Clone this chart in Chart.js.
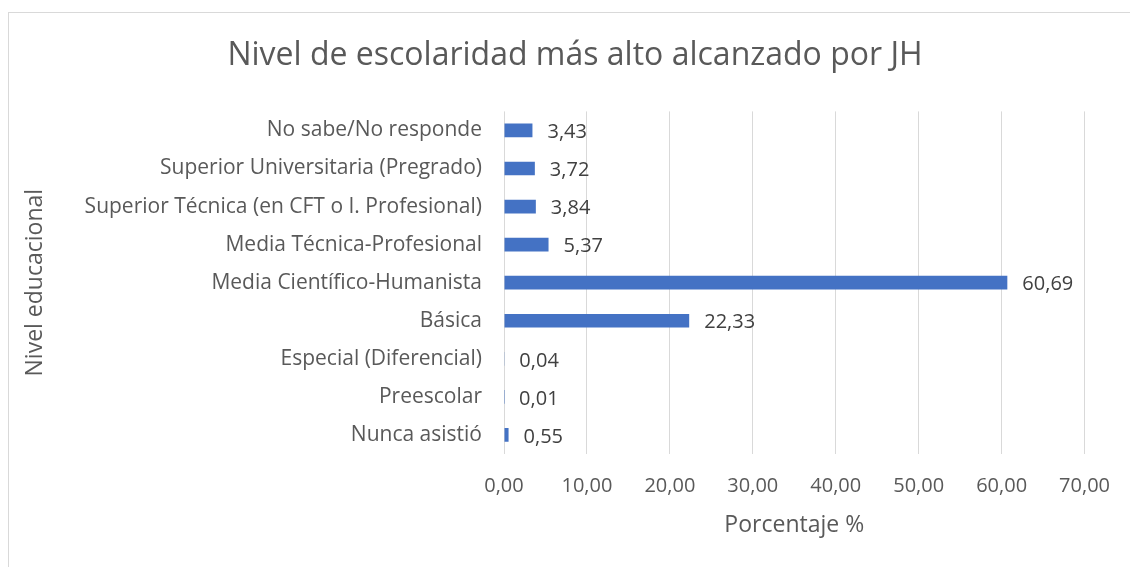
<!DOCTYPE html>
<html>
<head>
<meta charset="utf-8">
<script src="https://cdn.jsdelivr.net/npm/chart.js@4/dist/chart.umd.min.js"></script>
<style>
  html, body { margin: 0; padding: 0; background: #fff; }
  #frame {
    position: absolute; left: 8px; top: 12px; width: 1140px; height: 570px;
    border: 1px solid #d9d9d9; box-sizing: border-box;
  }
  #wrap { position: absolute; left: 0; top: 0; width: 1130px; height: 567px; }
</style>
</head>
<body>
<div id="frame"></div>
<div id="wrap"><canvas id="chart"></canvas></div>
<script>
// categories from top to bottom
const categories = [
    'No sabe/No responde',
    'Superior Universitaria (Pregrado)',
    'Superior Técnica (en CFT o I. Profesional)',
    'Media Técnica-Profesional',
    'Media Científico-Humanista',
    'Básica',
    'Especial (Diferencial)',
    'Preescolar',
    'Nunca asistió'
];
const percentages = [3.43, 3.72, 3.84, 5.37, 60.69, 22.33, 0.04, 0.01, 0.55];
const xTicks = [0, 10, 20, 30, 40, 50, 60, 70];

const fmt = v => v.toFixed(2).replace('.', ',');
const FONT = "'Open Sans', sans-serif";

// draws the value next to the end of each bar
const valueLabels = {
    id: 'valueLabels',
    afterDatasetsDraw(chart) {
        const ctx = chart.ctx;
        const meta = chart.getDatasetMeta(0);
        ctx.save();
        ctx.font = '20px ' + FONT;
        ctx.fillStyle = '#404040';
        ctx.textAlign = 'left';
        ctx.textBaseline = 'middle';
        meta.data.forEach((bar, i) => {
            ctx.fillText(fmt(percentages[i]), bar.x + 15, bar.y + 2);
        });
        ctx.restore();
    }
};

new Chart(document.getElementById('chart'), {
    type: 'bar',
    data: {
        labels: categories,
        datasets: [{
            data: percentages,
            backgroundColor: '#4472C4',
            borderWidth: 0,
            barPercentage: 0.36,
            categoryPercentage: 1
        }]
    },
    options: {
        indexAxis: 'y',
        responsive: true,
        maintainAspectRatio: false,
        animation: false,
        layout: { padding: { left: 20, right: 0, top: 0, bottom: 0 } },
        plugins: {
            legend: { display: false },
            tooltip: { enabled: false },
            title: {
                display: true,
                text: 'Nivel de escolaridad más alto alcanzado por JH',
                color: '#595959',
                font: { family: FONT, size: 32, weight: 'normal' },
                padding: { top: 37, bottom: 36 }
            }
        },
        scales: {
            x: {
                min: 0,
                max: 70,
                afterBuildTicks: scale => { scale.ticks = xTicks.map(v => ({ value: v })); },
                afterFit: scale => { scale.height = 113; },
                border: { display: false },
                grid: { color: '#d9d9d9', lineWidth: 1, drawTicks: false },
                ticks: {
                    color: '#595959',
                    padding: 20,
                    font: { family: FONT, size: 20 },
                    callback: v => fmt(v)
                },
                title: {
                    display: true,
                    text: 'Porcentaje %',
                    color: '#595959',
                    font: { family: FONT, size: 23 },
                    padding: { top: 28, bottom: 28 }
                }
            },
            y: {
                afterFit: scale => { scale.width = 484; },
                border: { display: false },
                grid: { display: false, drawTicks: false },
                ticks: {
                    color: '#595959',
                    padding: 22,
                    font: { family: FONT, size: 21 }
                },
                title: {
                    display: true,
                    text: 'Nivel educacional',
                    color: '#595959',
                    font: { family: FONT, size: 23 },
                    padding: { top: 2, bottom: 2 }
                }
            },
            // empty axis that only reserves the right margin
            yRight: {
                type: 'linear',
                position: 'right',
                afterFit: scale => { scale.width = 41; },
                border: { display: false },
                grid: { display: false, drawTicks: false },
                ticks: { display: false }
            }
        }
    },
    plugins: [valueLabels]
});
</script>
</body>
</html>
